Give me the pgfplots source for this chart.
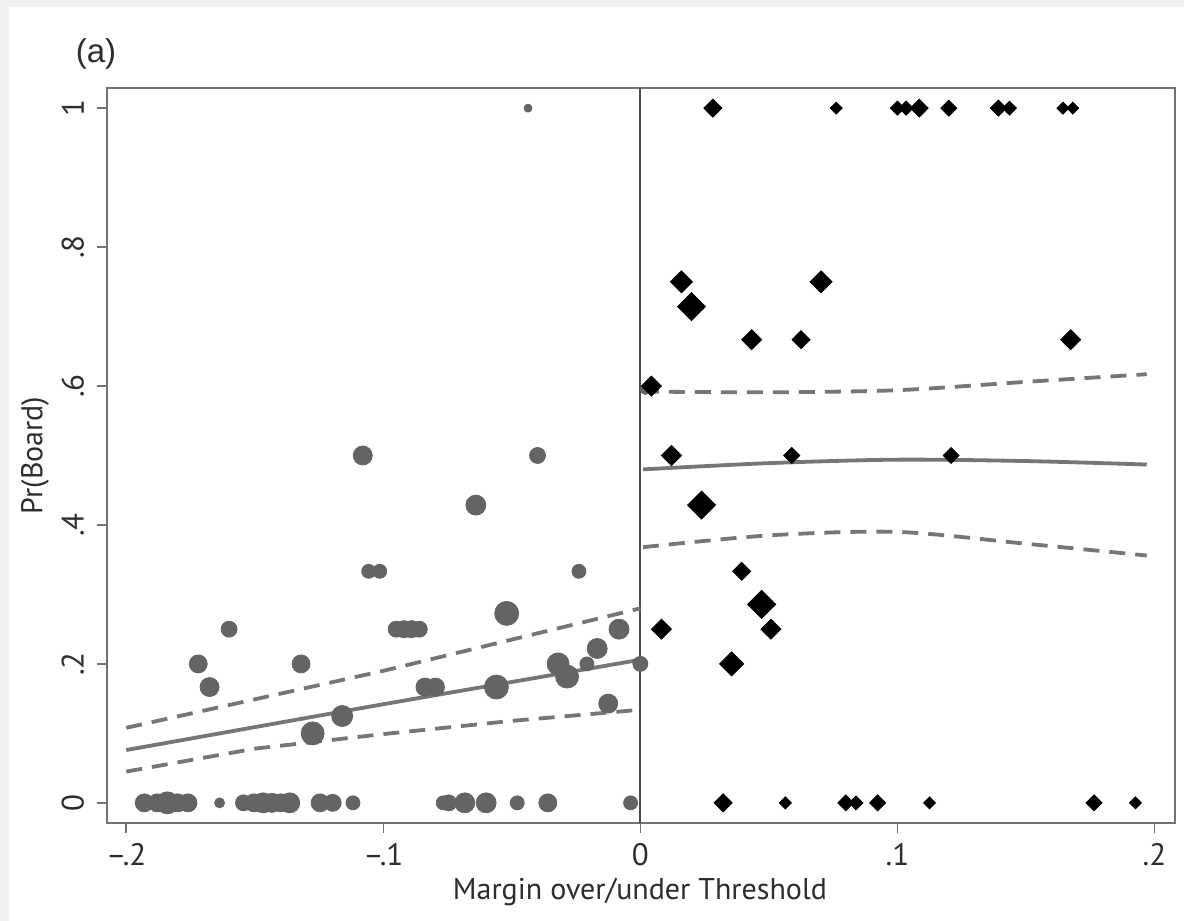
\documentclass[border=0pt]{standalone}
\usepackage{fontspec}
\setmainfont{PT Sans}
\newfontfamily\arialfont{Liberation Sans}
\usepackage{pgfplots}
\pgfplotsset{compat=1.18}
\definecolor{bggray}{RGB}{240,240,242}
\definecolor{ptgray}{RGB}{100,100,100}
\definecolor{fitgray}{RGB}{118,118,118}
\definecolor{framegray}{RGB}{115,115,115}
\definecolor{zerogray}{RGB}{75,75,75}
\definecolor{txtgray}{RGB}{45,45,45}

% x y r  (r = radius in image px)
\pgfplotstableread{
x y r
-0.108 0.5 9.5
-0.040 0.5 8
-0.064 0.4286 10
-0.1057 0.3333 7
-0.1014 0.3333 7
-0.0239 0.3333 7
-0.052 0.2727 12
-0.160 0.25 8
-0.095 0.25 8
-0.092 0.25 8.5
-0.089 0.25 8.5
-0.086 0.25 8
-0.0083 0.25 10
-0.172 0.2 9
-0.132 0.2 9
-0.032 0.2 11
-0.0285 0.1818 11.5
-0.0168 0.2222 10
-0.0208 0.2 7
0 0.2 7.5
-0.1676 0.1667 9.5
-0.0838 0.1667 9
-0.0797 0.1667 9
-0.056 0.1667 12
-0.116 0.125 10.5
-0.1275 0.1 11.5
-0.0125 0.1429 9.5
-0.0437 1 4
0.002 0.595 5
-0.193 0 9
-0.188 0 9
-0.184 0 11
-0.180 0 9
-0.176 0 9
-0.1637 0 5
-0.1544 0 8
-0.1503 0 9
-0.1468 0 10
-0.1433 0 9.5
-0.1399 0 9
-0.1364 0 10
-0.1246 0 9
-0.1197 0 8.5
-0.1118 0 7
-0.0767 0 7
-0.0746 0 8
-0.0683 0 10
-0.060 0 10
-0.0479 0 7
-0.036 0 9
-0.0038 0 7
}\circdata

% x y h  (h = half diagonal in image px)
\pgfplotstableread{
x y h
0.0282 1 9
0.0762 1 6
0.100 1 7
0.1034 1 7
0.1085 1 9
0.120 1 8
0.1393 1 8
0.1436 1 7
0.1644 1 6
0.1682 1 6
0.0322 0 9
0.0564 0 6
0.0799 0 8
0.0839 0 7
0.0923 0 8
0.1125 0 6
0.1765 0 8
0.1926 0 6
0.016 0.75 11
0.0199 0.7143 14
0.0703 0.75 11
0.0433 0.6667 10
0.0625 0.6667 9
0.1674 0.6667 10
0.0043 0.6 10
0.0121 0.5 10
0.0589 0.5 8
0.1209 0.5 8
0.0238 0.4286 14
0.0394 0.3333 9
0.0472 0.2857 14
0.0082 0.25 10
0.0508 0.25 10
0.0355 0.2 12
}\diamdata

\begin{document}
\begin{tikzpicture}
% background card
\fill[bggray] (-53.5pt,-49pt) rectangle (538.5pt,411.5pt);
\fill[white] (-49pt,-49pt) rectangle (538.5pt,408pt);
\begin{axis}[
  scale only axis,
  width=534pt,
  height=367.5pt,
  xmin=-0.2075, xmax=0.208,
  ymin=-0.029, ymax=1.029,
  axis line style={framegray, line width=1pt},
  xtick={-0.2,-0.1,0,0.1,0.2},
  xticklabels={--.2,--.1,0,.1,.2},
  ytick={0,0.2,0.4,0.6,0.8,1},
  yticklabels={0,.2,.4,.6,.8,1},
  tick align=outside,
  xtick pos=bottom,
  ytick pos=left,
  major tick length=5pt,
  tick style={framegray, line width=0.8pt},
  tick label style={font=\fontsize{15.5}{17}\selectfont, text=txtgray},
  xticklabel style={yshift=-1.5pt},
  yticklabel style={rotate=90, anchor=south, yshift=3pt},
  every axis x label/.style={at={(axis description cs:0.499,0)}, anchor=center, yshift=-34.5pt},
  every axis y label/.style={at={(axis description cs:0,0.5)}, rotate=90, anchor=center, yshift=36pt},
  label style={font=\fontsize{15}{17}\selectfont, text=txtgray},
  xlabel={Margin over/under Threshold},
  ylabel={Pr(Board)},
  clip=false,
]
% threshold line
\addplot[zerogray, line width=1pt] coordinates {(0,-0.029) (0,1.029)};
% fitted lines, left
\addplot[fitgray, line width=1.9pt] coordinates {(-0.2,0.076) (-0.1,0.142) (0,0.206)};
\addplot[fitgray, line width=1.9pt, dash pattern=on 8pt off 5pt] coordinates {(-0.2,0.108) (-0.1,0.19) (0,0.28)};
\addplot[fitgray, line width=1.9pt, dash pattern=on 8pt off 5pt] coordinates {(-0.2,0.045) (-0.15,0.078) (-0.1,0.099) (-0.05,0.118) (0,0.134)};
% fitted lines, right
\addplot[fitgray, line width=1.9pt, smooth] coordinates {(0.001,0.48) (0.05,0.489) (0.1,0.494) (0.15,0.492) (0.197,0.487)};
\addplot[fitgray, line width=1.9pt, smooth, dash pattern=on 8pt off 5pt] coordinates {(0.001,0.592) (0.05,0.591) (0.1,0.594) (0.15,0.606) (0.197,0.617)};
\addplot[fitgray, line width=1.9pt, smooth, dash pattern=on 8pt off 5pt] coordinates {(0.001,0.368) (0.05,0.385) (0.1,0.390) (0.15,0.373) (0.197,0.356)};
% below threshold: circles
\addplot[scatter, only marks, mark=*, point meta=y,
  scatter/use mapped color={draw=ptgray, fill=ptgray},
  visualization depends on={\thisrow{r} \as \rr},
  scatter/@pre marker code/.append style={/tikz/mark size=0.5*\rr}]
  table[x=x, y=y] {\circdata};
% above threshold: diamonds
\addplot[scatter, only marks, mark=square*, point meta=y,
  mark options={rotate=45},
  scatter/use mapped color={draw=black, fill=black},
  visualization depends on={\thisrow{h} \as \hh},
  scatter/@pre marker code/.append style={/tikz/mark size=0.3536*\hh}]
  table[x=x, y=y] {\diamdata};
\end{axis}
\node[font=\arialfont\fontsize{16.5}{18}\selectfont, text=txtgray] at (-5.5pt,384.5pt) {(a)};
\end{tikzpicture}
\end{document}
